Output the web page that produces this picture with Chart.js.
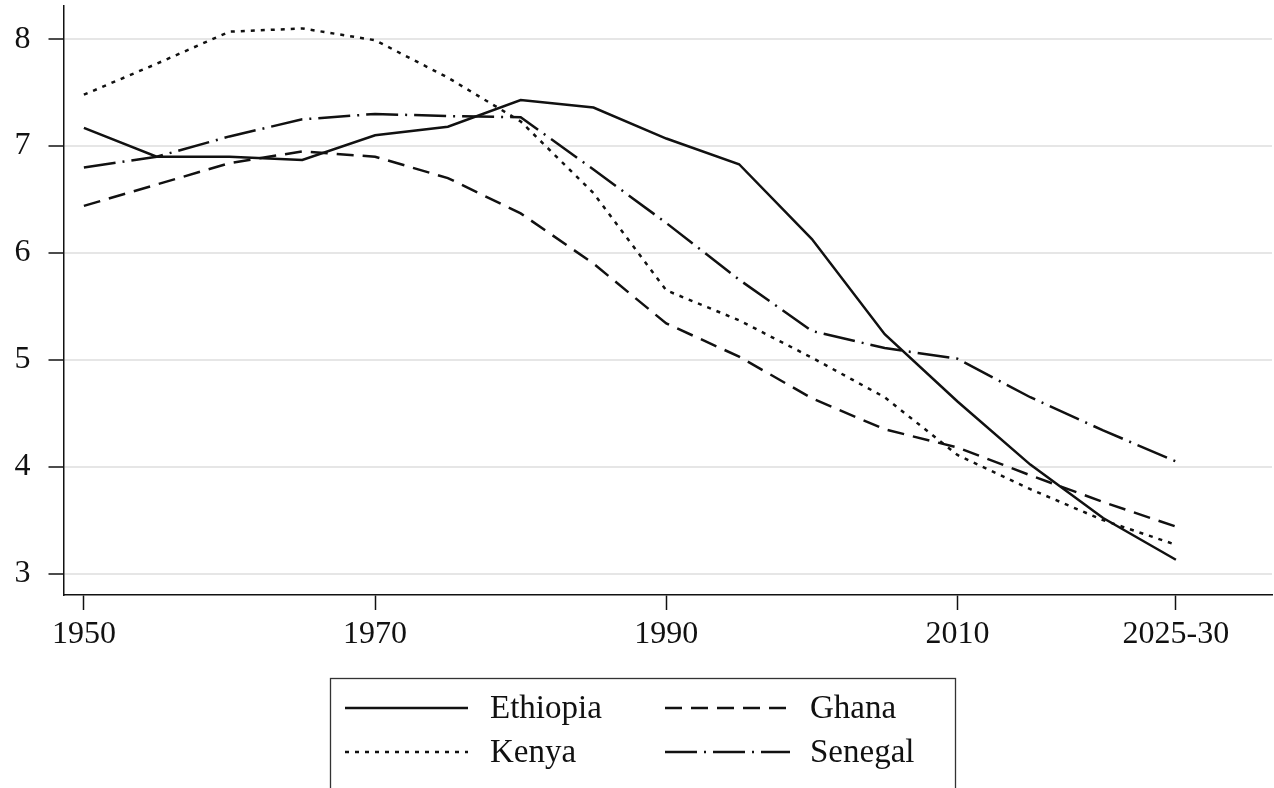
<!DOCTYPE html>
<html>
<head>
<meta charset="utf-8">
<title>Total fertility rate: Ethiopia, Ghana, Kenya, Senegal</title>
<script src="https://cdn.jsdelivr.net/npm/chart.js@4.4.1/dist/chart.umd.min.js"></script>
<style>
  html, body { margin: 0; padding: 0; background: #ffffff; }
  #wrap { width: 1274px; height: 788px; position: relative; }
</style>
</head>
<body>
<div id="wrap"><canvas id="c" width="1274" height="788"></canvas></div>
<script>
// Five-year periods (start year of each period)
const years    = [1950, 1955, 1960, 1965, 1970, 1975, 1980, 1985, 1990, 1995, 2000, 2005, 2010, 2015, 2020, 2025];

// Total fertility rate (children per woman)
const ethiopia = [7.17, 6.90, 6.90, 6.87, 7.10, 7.18, 7.43, 7.36, 7.07, 6.83, 6.13, 5.24, 4.61, 4.02, 3.52, 3.13];
const ghana    = [6.44, 6.64, 6.84, 6.95, 6.90, 6.70, 6.37, 5.90, 5.34, 5.03, 4.64, 4.35, 4.18, 3.92, 3.67, 3.44];
const kenya    = [7.48, 7.77, 8.07, 8.10, 7.99, 7.64, 7.23, 6.56, 5.65, 5.37, 5.02, 4.65, 4.11, 3.79, 3.50, 3.27];
const senegal  = [6.80, 6.90, 7.09, 7.25, 7.30, 7.28, 7.27, 6.78, 6.28, 5.75, 5.27, 5.11, 5.01, 4.65, 4.34, 4.05];

// Axis ticks
const xTickValues = [1950, 1970, 1990, 2010, 2025];
const xTickLabels = ['1950', '1970', '1990', '2010', '2025-30'];
const yTickValues = [3, 4, 5, 6, 7, 8];

const seriesNames = ['Ethiopia', 'Ghana', 'Kenya', 'Senegal'];
const seriesData  = [ethiopia, ghana, kenya, senegal];
const seriesDash  = [[], [17, 9], [4, 6], [32, 7, 2, 7]];

const serif = '"Liberation Serif", "DejaVu Serif", serif';
const ink = '#111111';

const datasets = seriesNames.map((name, i) => ({
  label: name,
  data: years.map((y, j) => ({ x: y, y: seriesData[i][j] })),
  borderColor: ink,
  borderWidth: 2.5,
  borderDash: seriesDash[i],
  pointRadius: 0,
  tension: 0,
  fill: false
}));

// Boxed two-column legend drawn beneath the plot
const boxLegend = {
  id: 'boxLegend',
  afterDraw(chart, args, o) {
    const ctx = chart.ctx;
    ctx.save();
    ctx.strokeStyle = '#333';
    ctx.lineWidth = 1.3;
    ctx.setLineDash([]);
    ctx.strokeRect(o.left, o.top, o.width, o.height);
    ctx.font = o.font;
    ctx.fillStyle = ink;
    ctx.textBaseline = 'middle';
    ctx.textAlign = 'left';
    chart.data.datasets.forEach((ds, i) => {
      const col = i % 2, row = Math.floor(i / 2);
      const y = o.rows[row];
      ctx.beginPath();
      ctx.lineWidth = ds.borderWidth;
      ctx.strokeStyle = ds.borderColor;
      ctx.setLineDash(ds.borderDash);
      ctx.moveTo(o.sampleStart[col], y);
      ctx.lineTo(o.sampleEnd[col], y);
      ctx.stroke();
      ctx.setLineDash([]);
      ctx.fillText(ds.label, o.textX[col], y + 1);
    });
    ctx.restore();
  }
};

new Chart(document.getElementById('c'), {
  type: 'line',
  data: { datasets },
  plugins: [boxLegend],
  options: {
    responsive: false,
    animation: false,
    layout: { padding: { top: 6, right: 2, left: 0, bottom: 0 } },
    plugins: {
      legend: { display: false },
      tooltip: { enabled: false },
      boxLegend: {
        left: 330.5, top: 678.5, width: 625, height: 130,
        rows: [708, 752],
        sampleStart: [345, 665],
        sampleEnd: [468, 790],
        textX: [490, 810],
        font: '33px ' + serif
      }
    },
    scales: {
      x: {
        type: 'linear',
        min: 1948.6,
        max: 2031.6,
        afterFit: s => { s.height = 193; s.paddingLeft = 0; s.paddingRight = 0; },
        afterBuildTicks: s => { s.ticks = xTickValues.map(v => ({ value: v })); },
        ticks: {
          autoSkip: false,
          maxRotation: 0,
          padding: 5,
          color: ink,
          font: { family: serif, size: 32 },
          callback: (v) => xTickLabels[xTickValues.indexOf(v)]
        },
        grid: {
          drawOnChartArea: false,
          drawTicks: true,
          tickLength: 15,
          tickColor: ink,
          tickWidth: 1.5
        },
        border: { display: true, color: ink, width: 1.5 }
      },
      y: {
        type: 'linear',
        min: 2.8,
        max: 8.31,
        afterFit: s => { s.width = 63.5; s.paddingTop = 0; s.paddingBottom = 0; },
        afterBuildTicks: s => { s.ticks = yTickValues.map(v => ({ value: v })); },
        ticks: {
          padding: 18,
          color: ink,
          font: { family: serif, size: 32 },
          callback: (v) => String(v)
        },
        grid: {
          color: '#e6e6e6',
          lineWidth: 2,
          drawTicks: true,
          tickLength: 15,
          tickColor: ink,
          tickWidth: 1.5
        },
        border: { display: true, color: ink, width: 1.5 }
      }
    }
  }
});
</script>
</body>
</html>
